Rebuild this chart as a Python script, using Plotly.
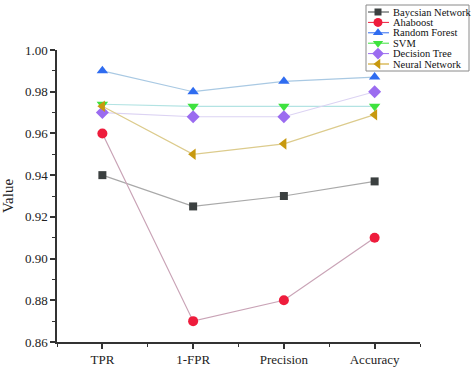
import plotly.graph_objects as go

categories = ["TPR", "1-FPR", "Precision", "Accuracy"]
series_names = ["Baycsian Network", "Ahaboost", "Random Forest", "SVM", "Decision Tree", "Neural Network"]
bayesian = [0.940, 0.925, 0.930, 0.937]
adaboost = [0.960, 0.870, 0.880, 0.910]
random_forest = [0.990, 0.980, 0.985, 0.987]
svm = [0.974, 0.973, 0.973, 0.973]
decision_tree = [0.970, 0.968, 0.968, 0.980]
neural_network = [0.973, 0.950, 0.955, 0.969]
y_ticks = [0.86, 0.88, 0.90, 0.92, 0.94, 0.96, 0.98, 1.00]

series_values = [bayesian, adaboost, random_forest, svm, decision_tree, neural_network]
marker_colors = ["#3b4040", "#ee1c3c", "#2f6cf0", "#3ee23e", "#9b6cf0", "#c8990f"]
line_colors = ["#a9a9a9", "#c9a3b6", "#a9c9e3", "#b3e3e3", "#dcd3f3", "#dccb8c"]
symbols = ["square", "circle", "triangle-up", "triangle-down", "diamond", "triangle-left"]
sizes = [8, 10, 10, 10, 10, 10]

W, H = 474, 368
PL, PR, PT, PB = 57, 420, 50, 342  # plot area edges in pixels

font_family = "Liberation Serif, DejaVu Serif, serif"

def px_x(p):
    return p / W

def px_y(p):
    return 1 - p / H

x_idx = list(range(len(categories)))
fig = go.Figure()
for name, vals, mc, lc, sym, sz in zip(series_names, series_values, marker_colors, line_colors, symbols, sizes):
    fig.add_trace(go.Scatter(
        x=x_idx, y=vals, name=name, mode="lines+markers",
        line=dict(color=lc, width=1.2),
        marker=dict(symbol=sym, color=mc, size=sz),
        showlegend=False,
    ))

# compact legend box, drawn on a full-page overlay axis in pixel units
leg_left, leg_right, leg_top, leg_bottom = 366, 469, 5, 71
row_y0, row_step = 12, 10.4
seg_x0, seg_x1, mark_x, text_x = 368, 389, 378, 392

shapes = [dict(type="rect", xref="paper", yref="paper",
               x0=px_x(leg_left), x1=px_x(leg_right), y0=px_y(leg_bottom), y1=px_y(leg_top),
               line=dict(color="#8a8a8a", width=1), fillcolor="white", layer="below")]
annotations = []
for i, (name, mc, sym, sz) in enumerate(zip(series_names, marker_colors, symbols, sizes)):
    ry = row_y0 + i * row_step
    shapes.append(dict(type="line", xref="paper", yref="paper",
                       x0=px_x(seg_x0), x1=px_x(seg_x1), y0=px_y(ry), y1=px_y(ry),
                       line=dict(color=mc, width=1), layer="below"))
    fig.add_trace(go.Scatter(
        x=[mark_x], y=[ry], xaxis="x2", yaxis="y2", mode="markers",
        marker=dict(symbol=sym, color=mc, size=sz - 1),
        cliponaxis=False, showlegend=False, hoverinfo="skip",
    ))
    annotations.append(dict(xref="paper", yref="paper", x=px_x(text_x), y=px_y(ry),
                            xanchor="left", yanchor="middle", showarrow=False, borderpad=0,
                            text=name, font=dict(size=10.5, family=font_family, color="#111")))

fig.update_layout(
    width=W, height=H,
    margin=dict(l=0, r=0, t=0, b=0, pad=0, autoexpand=False),
    paper_bgcolor="white", plot_bgcolor="rgba(0,0,0,0)",
    font=dict(family=font_family, color="#222", size=13),
    showlegend=False,
    shapes=shapes,
    annotations=annotations,
    xaxis=dict(
        domain=[PL / W, PR / W], anchor="y",
        range=[-0.5, 3.5], tickvals=x_idx, ticktext=categories, automargin=False,
        showgrid=False, zeroline=False, showline=True, linecolor="#333", linewidth=1.5,
        ticks="outside", ticklen=5, tickwidth=1.5, tickcolor="#333",
        minor=dict(tickvals=[-0.5, 0.5, 1.5, 2.5, 3.5], ticks="outside", ticklen=3, tickwidth=1.2, tickcolor="#333"),
        tickfont=dict(size=13),
    ),
    yaxis=dict(
        domain=[1 - PB / H, 1 - PT / H], anchor="x",
        range=[0.86, 1.00], tickvals=y_ticks, ticktext=[f"{v:.2f}" for v in y_ticks], automargin=False,
        showgrid=False, zeroline=False, showline=True, linecolor="#333", linewidth=1.5,
        ticks="outside", ticklen=5, tickwidth=1.5, tickcolor="#333",
        minor=dict(dtick=0.01, tick0=0.86, ticks="outside", ticklen=3, tickwidth=1.2, tickcolor="#333"),
        title=dict(text="Value", font=dict(size=15), standoff=8),
        tickfont=dict(size=13),
    ),
    xaxis2=dict(domain=[0, 1], anchor="y2", range=[0, W], visible=False, fixedrange=True, automargin=False),
    yaxis2=dict(domain=[0, 1], anchor="x2", range=[H, 0], visible=False, fixedrange=True, automargin=False),
)
fig.write_html("out.html", config={"displayModeBar": False},
               post_script="document.body.style.margin='0px';")
